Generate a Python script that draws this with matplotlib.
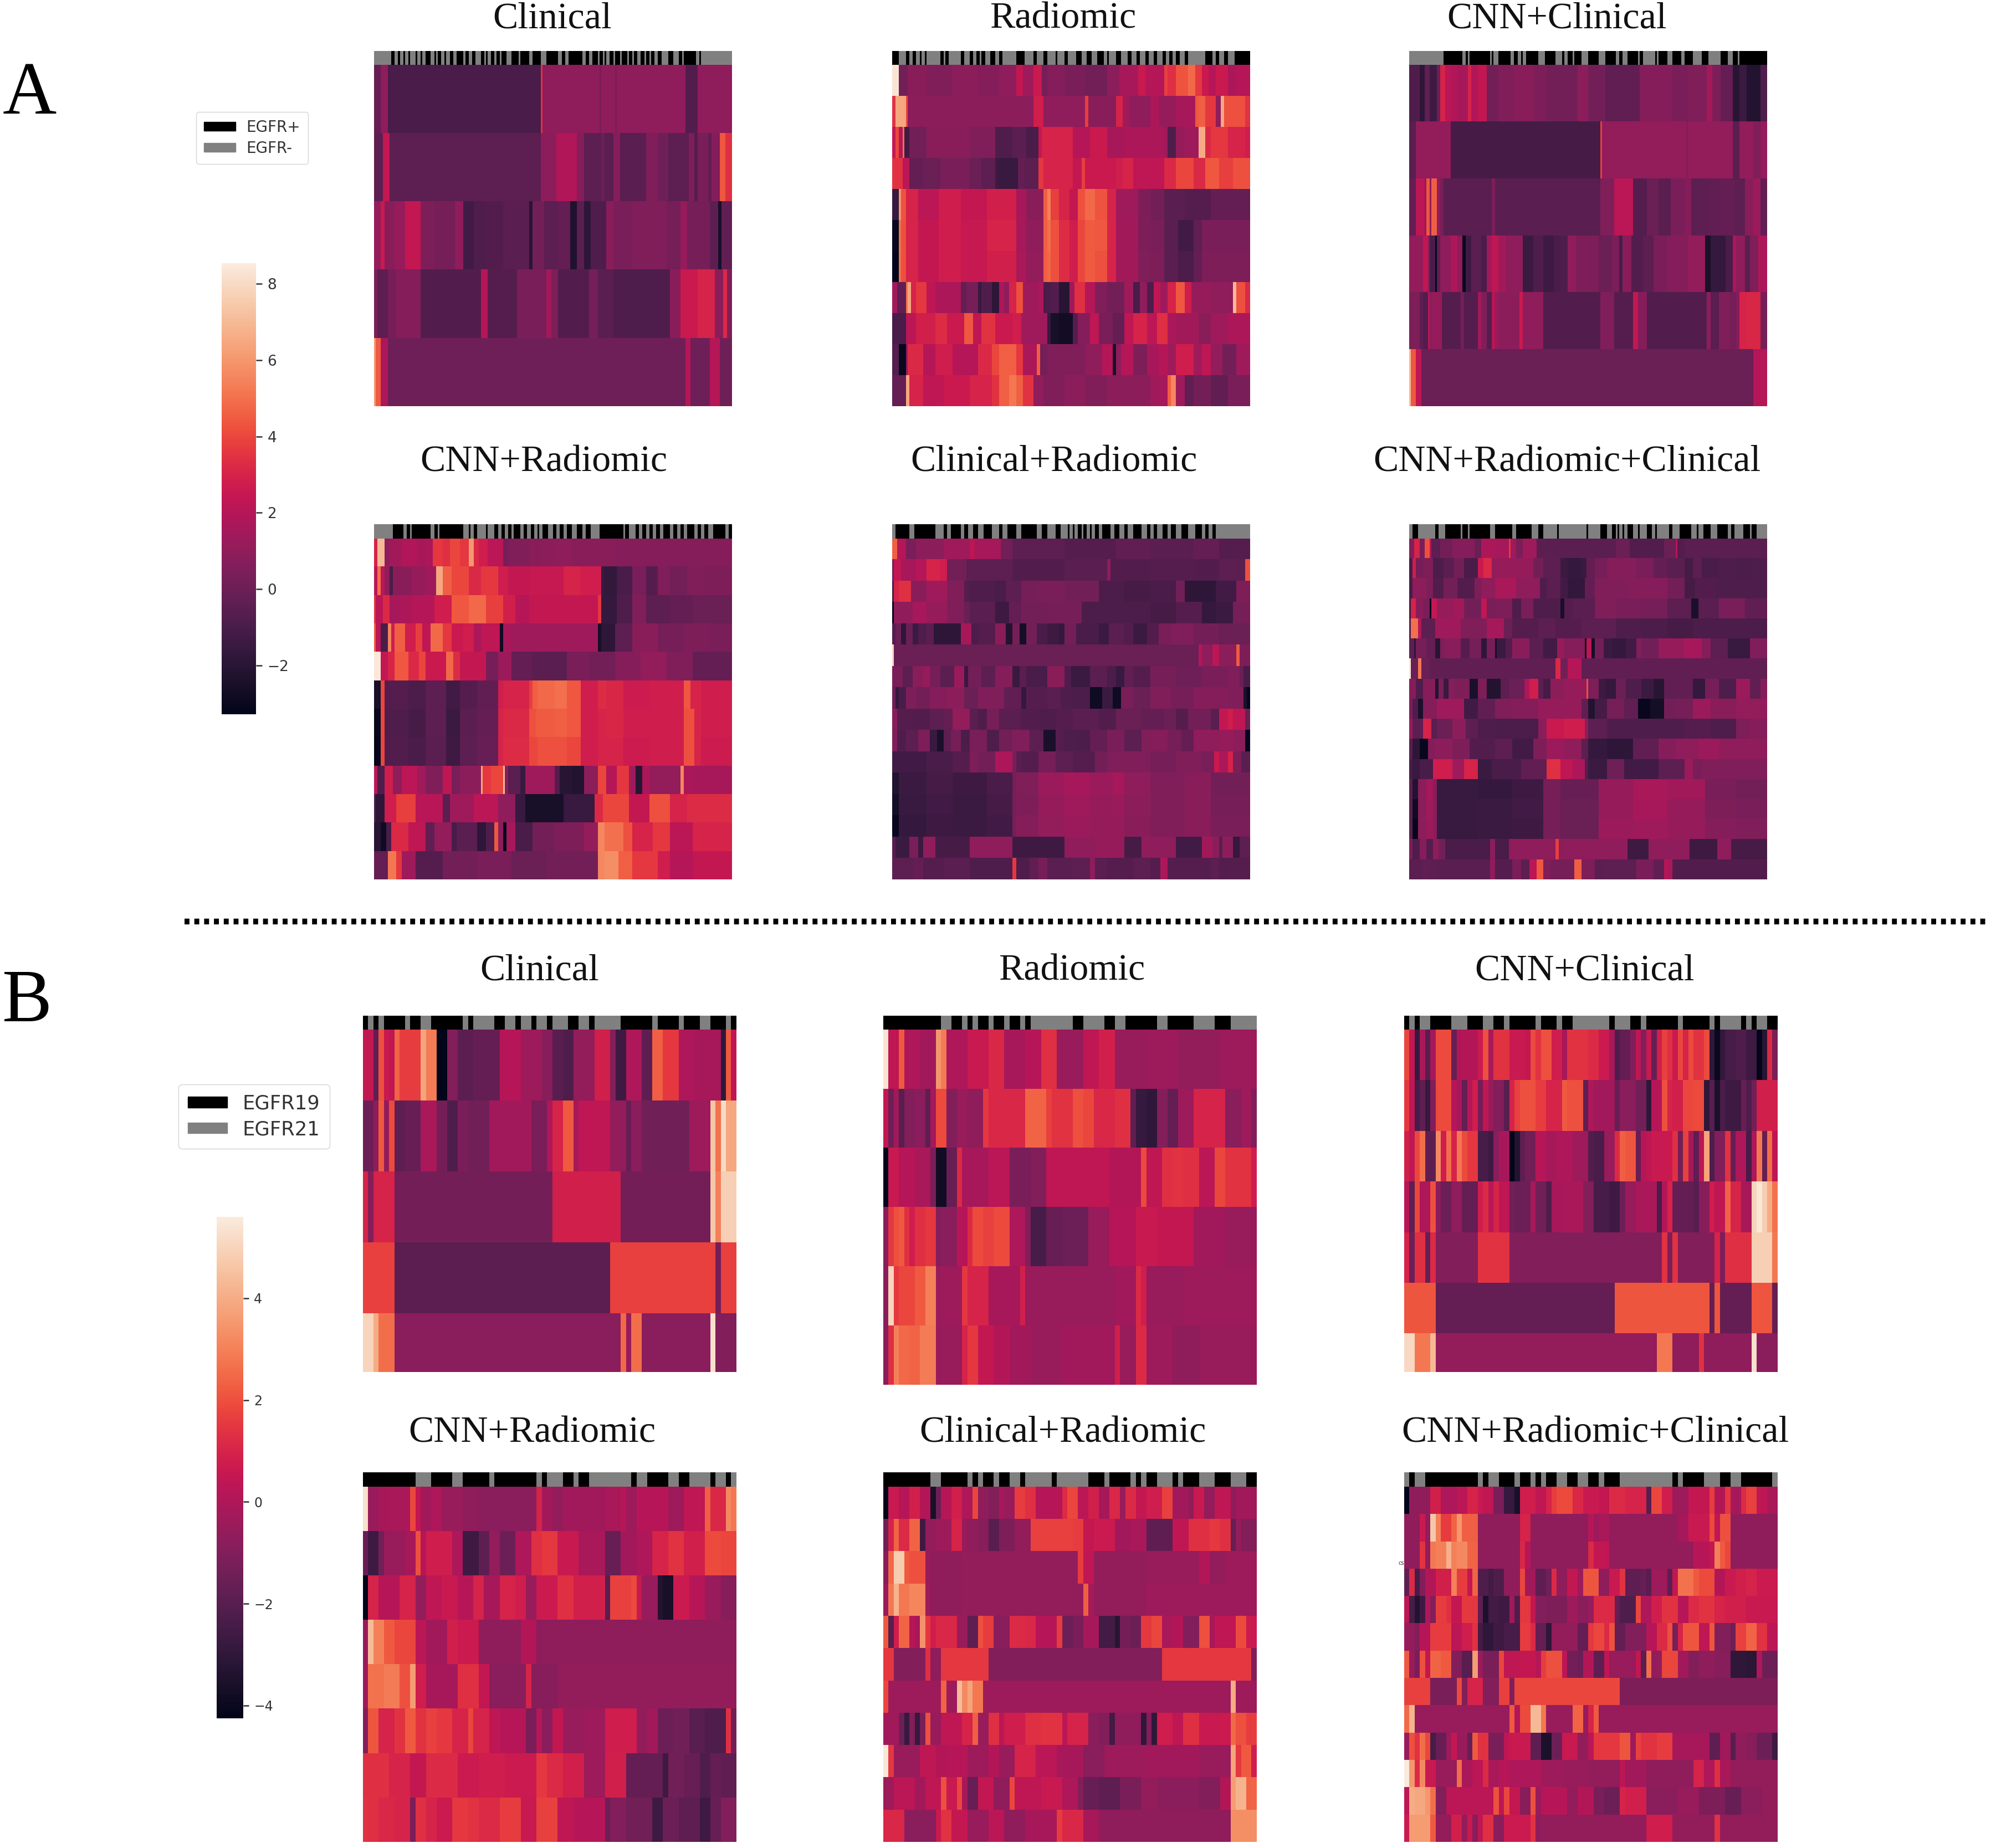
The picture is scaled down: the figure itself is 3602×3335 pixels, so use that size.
import numpy as np
import matplotlib
matplotlib.use("Agg")
import matplotlib.pyplot as plt
from matplotlib.colors import ListedColormap, Normalize
from matplotlib.cm import ScalarMappable
from matplotlib.patches import Patch
import seaborn as sns

# Every heat row: "end_column:value" runs.
A_COLS = 208
B_COLS = 71

A_CLINICAL = [
 "4:-0.2 8:1 97:-1 98:3.5 131:1 132:0.4 140:1 141:0.4 181:1 188:-0.7 208:1",
 "5:-0.4 9:2.4 97:-0.4 106:0.9 118:1.9 122:0.7 132:-0.4 134:0 139:-0.5 143:0.7 158:-0.5 165:0.6 171:0.1 172:-0.5 183:-0.4 186:0.5 188:-0.6 194:0.4 196:-0.3 201:0.7 204:4.4 208:3.4",
 "4:1.2 6:2.6 12:0.8 18:1.2 27:2.4 35:0.5 47:0.3 52:1 58:-1.2 65:-0.8 75:-0.7 90:-0.5 92:-2 99:0.2 107:-0.4 114:-0.2 118:-2.3 122:-0.5 126:-1.8 135:-0.8 139:0.8 150:0.4 170:0.6 178:0.3 182:1.2 195:0.3 200:-0.4 202:-2.5 208:-0.3",
 "2:0.4 8:-0.4 13:0.3 27:0.7 62:-0.7 66:2 83:-0.6 100:0.4 103:1.5 107:0.5 125:-0.7 130:0.3 139:-0.5 172:-0.8 178:0.8 188:2.6 198:3 203:0.8 205:3.2 208:0.5",
 "1:6 4:4.5 8:1.8 181:0.1 184:2 195:0.1 201:2 208:0.1",
]
A_RADIOMIC = [
 "4:8.3 9:0.2 20:0.8 35:0.6 50:0.9 62:0.7 72:1 76:2.4 82:1.4 87:2.6 90:0.3 100:0.7 112:0.4 125:0.2 132:0.9 143:1.6 147:2.6 158:2 160:3.8 165:3.4 172:4.3 176:4.8 180:3.6 184:2.6 188:2 195:2.6 200:1.8 208:2",
 "2:3.5 8:6.5 9:4 47:0.9 82:0.9 88:2.8 112:1 114:3.8 130:0.8 134:3 138:1.5 150:1 155:1.8 165:1.2 176:1.6 178:4.4 182:4.6 188:3.6 191:1 193:6.5 205:4.2 208:3.5",
 "2:2.5 4:4 6:2 7:5 10:-1.2 20:0.2 45:0.8 60:0.6 70:-0.8 78:-0.5 85:-1 87:2.4 105:3 115:2 125:2.6 135:1.6 158:1.8 160:1.4 165:-0.8 170:1.2 178:1.4 182:6.6 185:3.2 195:3.6 205:3 208:2.8",
 "6:3.5 10:2.2 18:-0.2 28:0 45:0.4 52:0 60:-0.4 62:-1.3 73:-1.5 77:-0.2 85:-0.4 88:3.6 105:3 110:2.4 112:3.8 130:2.6 134:2.8 140:3 158:2.3 165:3.2 175:4 182:3.2 190:4.4 198:3.8 208:4.2",
 "4:-1.5 5:6 8:4.3 15:3 27:2.2 40:2.8 55:2.4 72:2.9 78:1.6 88:0.8 90:4.6 92:5.4 97:3.8 103:3 108:2.4 112:4.2 118:4.8 125:4.3 130:3 143:1.4 150:0.5 158:0.2 170:-0.5 185:-0.6 208:-0.2",
 "4:-3 5:5 8:4.2 15:3 27:2.4 40:2.8 55:2.5 72:3 78:1.6 88:1 90:4.6 92:5 97:4.2 103:3.3 108:2.8 112:4 118:4.5 125:4.4 130:3 143:1.5 150:0.5 158:0.4 166:-0.5 175:-1.2 180:-0.3 208:0.4",
 "4:-3.2 5:5 8:4.2 15:3 27:2.4 40:2.8 55:2.5 72:2.9 78:1.7 88:1.1 90:4.6 92:4.8 97:4.2 103:3.3 108:2.8 112:4 118:4.5 125:4.2 130:3 143:1.5 150:0.6 158:0.5 166:-0.5 175:-0.9 180:-0.2 208:0.5",
 "3:1.5 8:-0.3 9:5 11:6.5 14:3 20:3.6 25:2.3 40:1.8 43:-0.2 50:0.3 52:-1.5 58:-0.8 62:-1.8 65:1.8 68:1 72:3 76:4.2 85:1.4 88:1.8 92:-1 97:-0.7 103:-2 106:1.4 112:3.4 118:2 125:0.6 135:0.2 140:1.4 144:-1 148:1 152:-0.8 156:2.3 160:1.4 165:3 170:4.4 174:2.8 185:1.2 198:1 200:7 205:4.2 208:3.2",
 "8:-1 14:2.2 25:2.9 32:3.3 42:2.6 47:4.4 52:2.3 60:3.5 70:2.6 75:2.8 90:1.4 92:-1.5 97:-2.5 105:-2.7 108:-0.6 115:0.7 120:2.3 128:0.4 135:-0.2 140:2.3 148:3 154:2.2 160:3.4 165:1.8 178:1.5 185:0.8 195:1.4 208:1.8",
 "4:-0.6 8:-3 9:1 18:3.2 25:2 35:2.8 50:2 58:3.2 62:4 72:4.6 76:3.6 84:1.8 86:4.6 90:0.3 112:0.6 122:1 128:2 130:-2.5 133:1 140:2 148:0.5 155:1.6 160:2 165:1.4 175:2.8 180:1.4 185:2.3 192:1.1 200:0.2 208:1.4",
 "8:-0.2 10:6.5 18:3 30:2.3 45:2.6 58:3 62:3.5 68:4.6 72:5.2 76:4.6 82:3.5 88:1 100:0.6 112:0.9 125:0.6 150:0.9 155:1.4 160:1.6 162:4.6 165:5.6 170:1.4 175:-0.3 185:0.2 195:-0.3 208:0.4",
]
A_CNN_CLIN = [
 "6:-0.8 9:-1.8 12:-0.3 16:-1.3 18:0 21:3 24:2.2 28:1.9 34:1.6 36:3 40:1.9 45:2.4 52:0.2 61:0.6 72:0.8 80:0.5 98:0.2 104:0.9 114:0.2 134:-0.3 153:0.7 162:0.4 173:0.6 176:1.5 181:0.5 188:-0.2 192:-2 196:-1.4 204:-2.2 208:-0.8",
 "4:-0.5 24:1.1 111:-1.1 112:3.8 161:1.1 162:0.6 181:1.1 188:1.1 192:-0.5 200:1.1 204:0.6 208:1.2",
 "4:-0.2 9:2.2 10:1 12:4.4 13:1 16:4.6 18:1 20:0.4 48:-0.5 50:0.5 51:-0.5 111:-0.5 119:0.6 130:2.2 138:-0.6 145:0 152:-0.5 160:0.4 164:0.7 173:-0.4 180:-0.3 189:-0.2 195:-0.4 200:0.8 204:1.3 208:-0.3",
 "8:1.1 11:2.3 12:0.8 15:-1 16:-3 18:-0.3 24:1 28:1.8 31:1 33:-3 36:-1.3 42:-0.5 45:-1 48:1.5 52:2.3 56:1.5 66:1 72:-1.4 78:-0.8 84:-1.3 88:-1 92:-0.8 97:1 110:0.5 118:0 122:0.4 124:-1 129:0.8 136:-0.7 142:-0.4 150:0.4 162:0.7 170:1.1 172:1.2 175:-2.4 184:-1.6 188:-1 190:1.8 195:1 198:-0.5 203:0.6 208:1.8",
 "6:0.5 8:-0.4 11:-0.7 12:2 14:1 19:1.2 30:-0.6 32:0.3 40:-0.6 42:1.5 45:0.6 48:-0.6 50:2 52:1.2 64:0.9 66:2.6 68:0.9 78:1 111:-0.7 119:0.6 130:-0.6 133:2.4 138:0.7 173:-0.7 175:1 180:-0.5 186:0.6 190:0.3 192:0.7 196:3 204:3.1 208:0.3",
 "1:7 4:4.4 7:2.3 200:0 208:2",
]
A_CNN_RAD = [
 "2:3 6:7 9:1 16:1.5 25:1.9 30:1.6 34:1.8 40:3.6 44:3.4 50:4 55:3.6 58:6 61:3.2 66:2.8 75:2.2 78:0.3 90:0.6 98:0.8 105:0.9 115:1 130:0.8 140:0.8 165:0.7 208:0.7",
 "2:2.2 4:5 6:2.2 9:1 11:-1 22:0.8 30:1.2 36:1.4 40:6.5 45:4.6 55:4 62:3.2 72:3.6 78:2.8 90:2.4 110:2.5 120:3 132:2.8 134:-1.5 141:-1.7 150:-1 158:0.4 165:-0.6 172:0.6 182:0.2 192:0.6 208:0.5",
 "1:3.5 5:2.2 9:3.2 15:1.6 22:1.8 35:2 45:2.8 55:4.4 65:4.8 75:3.8 82:2.9 90:2 105:2.4 130:2.4 132:3.6 134:-1.6 141:-1.6 150:-0.8 158:0.6 172:-0.4 185:-0.2 208:0",
 "1:4.5 4:2.2 8:-1 10:5.5 12:2.8 18:4.6 24:2.8 28:3.8 33:2.3 40:4.8 45:3.6 52:2.6 58:2.8 62:1.8 73:2.3 75:-2.8 80:1.6 100:1.4 130:1.4 132:-2.5 140:-1.8 150:-0.4 165:0.8 180:0.3 195:0.5 208:0.4",
 "4:8.4 8:2.4 12:3 20:4.4 26:3.2 30:4 42:2.6 46:4.8 50:3.3 65:2.4 72:0.3 80:1.3 92:-0.2 112:-0.5 125:0.4 140:0.2 155:0.7 170:1.1 185:0.6 208:-0.2",
 "4:-2.5 6:4 20:-0.6 30:-0.9 42:-0.4 50:-1.2 60:-0.6 72:-0.3 75:2.8 90:3 92:3.8 95:4.6 105:4.8 112:5 120:4.4 130:2.8 135:3.3 145:3.1 160:2.7 180:2.8 184:4.4 190:3 208:2.8",
 "4:-3 6:4 20:-0.8 30:-1.1 42:-0.4 50:-1.4 60:-0.5 72:-0.2 75:3 90:3.2 94:4.2 105:4.5 112:4.6 120:4.4 130:2.8 135:3 145:3.1 160:2.8 180:2.8 186:4.2 190:3 208:2.8",
 "4:-3.1 6:4 20:-0.7 30:-1 42:-0.5 50:-1.3 60:-0.4 72:-0.1 75:3 90:3.3 95:4 105:4.2 112:4.2 120:4 130:2.8 135:3 145:3 160:2.7 180:2.8 186:4.2 190:3 208:2.7",
 "2:2.2 6:-0.8 11:2.8 16:1 25:2.2 30:1.4 40:0.6 45:2.3 50:0.4 62:0.9 63:6.5 68:3.6 75:4 76:7 78:0.8 85:-0.5 88:-1.5 105:1.4 108:-0.6 115:-2 122:-2.2 130:0.9 135:4 141:2 148:3.6 152:1.4 156:-2 160:1.8 178:1.1 180:5.6 185:1.8 208:1.6",
 "1:-1 6:-1.8 13:2.8 24:3.8 40:2.1 44:-0.5 58:1.4 72:2.2 82:1 88:-1.5 110:-2.5 128:-1.5 133:3.2 148:4 160:2.4 172:4.2 182:3 195:3.3 208:3.3",
 "4:-2 7:-2.8 10:-1 20:3.2 30:2.3 35:-0.3 45:1.1 48:-1 60:-0.5 65:-1.8 70:-0.8 72:4.4 75:0.9 77:-3 82:1.6 92:-1 105:0.2 122:0.5 130:1.1 134:5.6 145:5 150:4.2 162:3 172:3.6 185:2.2 208:3",
 "8:-0.2 13:5.2 16:3.6 24:1.4 40:-0.6 60:0.2 80:0.4 100:0 130:0.2 134:5.6 142:5.8 150:4.6 165:3.6 172:2.8 185:2 208:2.4",
]
A_CLIN_RAD = [
 "3:4.6 8:2 14:0.4 30:0.9 45:1.4 48:2.2 63:1.6 70:0.2 100:-0.4 130:-0.6 150:-0.3 175:-0.5 190:-0.2 208:-0.6",
 "1:0.2 5:2.4 14:1.6 20:2 28:3 32:2.8 43:0.2 70:-0.4 100:-0.7 125:-0.5 127:1 150:-0.7 175:-0.6 190:-0.7 200:-0.4 205:-0.5 208:4.2",
 "1:-1 4:3 11:3.4 20:0.8 32:1.4 42:0.6 45:-0.6 60:-0.8 66:-1 75:-0.4 85:0.3 100:0.4 120:0.2 135:-0.9 150:-1.1 165:-1 170:0.2 188:-1.8 200:-1.2 208:0.5",
 "1:-3 12:1 20:1.6 32:1.2 42:0.6 45:0 60:-0.5 68:-1.3 75:-0.2 90:0.2 110:0.3 135:-0.9 150:-0.9 165:-1.1 180:-0.6 188:-1.6 198:-1.4 208:0.3",
 "2:-0.6 5:0 8:-1.8 12:0 15:-1.4 20:-0.8 24:-0.5 40:-1.8 46:1.6 50:-0.9 60:-0.6 66:0.8 70:-2.2 74:0.3 78:-2.6 84:0.2 90:-1 97:-1.3 100:-1.6 107:0.2 120:-1 126:-1.4 135:-0.5 140:-0.7 148:-1.4 155:-0.7 162:0.4 175:0.6 190:0.2 208:0",
 "1:8 3:0 178:0 180:2 186:1 190:2.2 200:0.9 202:4.5 208:0.5",
 "6:0.4 12:-0.4 18:0.8 22:1.2 28:0.3 36:-0.5 42:1.3 44:-1.5 52:0.2 60:-0.4 70:0.7 74:-1.5 78:-0.5 90:-1 100:0.8 104:-0.8 115:-1.4 125:-0.5 130:-0.9 135:-1.5 140:-0.3 150:-0.6 165:0.3 180:0.1 195:0.4 202:0.6 204:0 208:-1",
 "2:0.1 4:-1.6 8:-1 14:0.5 22:0.2 32:0.7 42:0.9 50:0 65:0.6 75:-0.3 78:-1.6 90:-0.6 98:-0.5 105:-0.8 115:-0.9 122:-2.8 128:-1.4 133:-2.8 140:0.4 150:0 162:0.6 175:0.3 195:0.7 204:0.6 206:-2.4 208:-3",
 "3:0.8 12:-0.6 22:-0.7 30:-0.4 35:-0.2 45:1.1 50:-0.5 55:-0.8 62:0.3 75:-0.5 85:-0.7 95:-0.8 105:-0.6 120:-0.5 130:-0.7 145:0 158:-0.2 165:0 172:-0.6 185:0.2 190:-0.5 195:2.4 198:2.8 205:2.3 208:0",
 "3:0.6 8:-0.8 15:-0.4 22:0.5 26:-1.5 30:-2.4 34:-0.4 40:0.3 45:-0.9 55:0.4 62:-0.8 70:0.2 80:0.6 88:-0.4 95:-2.4 100:-0.6 108:-0.8 115:-0.9 125:-0.2 135:0.4 145:-0.4 150:0.6 160:0.7 168:0.3 175:-0.2 190:1 198:1.2 205:0.9 207:-3.1 208:-3",
 "8:-1.2 20:-1.2 35:-1 45:-0.6 50:0.5 60:0.2 70:1.8 72:0.4 75:-0.5 85:-0.6 95:0.3 105:-0.4 118:-0.6 125:0.2 135:0.6 150:0.6 165:0.3 180:0.6 187:0.4 190:2.6 195:1.8 198:3 203:0.5 208:-0.5",
 "4:-2.2 20:-1.4 35:-1.1 55:-1.3 70:-1 72:0.3 85:0.6 100:1.3 115:1.6 128:1.3 135:1.6 150:1 170:0.6 185:0.8 208:0.2",
 "4:-2.6 20:-1.5 35:-1.2 55:-1.4 70:-1.1 72:0.3 85:0.5 100:1.2 115:1.4 128:1.2 135:1.3 150:0.9 170:0.6 185:0.8 208:0.3",
 "4:-3 20:-1.6 35:-1.3 55:-1.4 70:-1.2 72:0.3 85:0.7 100:1.1 115:1.3 128:1.2 135:1.2 150:0.8 170:0.6 185:0.8 208:0.4",
 "2:-0.6 10:-1.4 15:0.4 18:-1.4 25:1 45:-1.1 70:1 100:-1.3 118:1 135:1.2 145:-1.1 165:1 180:-1.2 186:1.5 190:0.9 192:-0.5 198:0.9 202:-1.6 208:-0.4",
 "12:-0.4 18:-0.2 30:-0.6 45:-0.5 70:-0.8 72:3.6 80:-0.8 85:-0.3 90:0.3 105:-0.5 115:-0.4 118:1 125:-0.5 140:-0.6 150:-0.4 156:-0.6 160:1.8 170:-0.6 185:-0.6 190:-0.4 200:-0.6 208:-0.6",
]
A_ALL = [
 "3:0.7 6:3 9:0.4 12:4.2 13:2 18:-0.4 25:0.2 38:0.7 42:0 50:1.8 58:1.6 59:3.6 62:1.4 66:0.4 74:1.4 77:-0.5 120:-0.5 128:0 148:-0.7 155:0 156:2 160:-0.6 208:-0.5",
 "2:-1 4:2.8 8:0.3 14:0.5 20:-0.9 26:-0.5 32:0.2 40:-1 43:2.6 48:3.2 50:1 60:1.2 72:1.2 78:0.2 88:-0.4 92:-1.4 100:-1.6 103:-1.4 108:-0.2 115:0.3 132:0.7 142:0.4 150:-0.2 160:-0.5 165:-1.1 170:-0.4 180:-1 190:-0.8 200:-0.9 208:-0.8",
 "2:-1 5:1 10:0.9 14:0.5 20:-0.7 28:0.2 38:-0.7 42:0.5 50:1 62:1.7 76:1 80:-0.8 88:-0.5 92:-1.2 102:-1.7 108:-0.2 128:0.6 150:0.7 160:0.2 166:-1.1 178:-0.7 190:-0.8 208:-0.8",
 "1:-1 4:3 8:0.8 12:0.4 13:-3.2 16:2.4 26:1.2 32:1.5 42:0.2 45:2.3 50:0.4 60:0.5 65:-0.8 72:0.4 88:-0.8 90:-2.5 95:-0.6 108:-0.5 120:0.6 135:0.4 150:0.3 164:-0.4 168:-2.4 180:-0.5 195:0.4 208:-0.3",
 "1:-0.4 5:5 7:2 15:-0.4 30:1.4 45:0.6 55:1.6 60:0 75:-0.6 85:-0.4 100:-0.6 120:-0.4 135:-0.8 150:-0.9 165:-1.1 180:-0.9 208:-0.9",
 "3:-0.4 4:-1.8 10:0.3 15:-0.2 18:-2 21:0.6 30:0.8 35:-0.6 42:0.3 45:-1.8 50:0.3 51:-2.6 56:-1.4 60:-0.6 70:0.8 78:-0.5 86:-1.2 90:1.2 102:0.7 103:-2.8 106:2.2 108:-2.6 113:0.2 118:-1.4 126:-1.6 132:-1.2 135:0.6 145:0.2 160:1.2 170:1.6 175:0.7 185:-0.4 193:-1.5 198:-1.5 208:0.6",
 "1:8.4 5:0 7:5.2 12:0 85:-0.3 88:3.2 92:0.2 96:2 100:2 208:-0.3",
 "4:0.7 8:-0.8 15:0.7 17:-2.2 20:0.4 23:-1.5 26:0.7 35:0.5 40:-2.4 45:0.5 53:-2.2 58:-0.4 67:0 70:1.8 75:2.8 78:-0.4 82:-1.1 90:0.9 103:1.2 104:4.2 110:0.5 114:-1.3 120:-1.6 126:0 135:-0.8 142:-1.4 148:-2 155:-0.3 165:-0.3 172:-1.6 180:0.3 190:-0.8 198:1.3 204:-0.3 208:0.7",
 "2:0.5 5:-0.8 8:-2.4 16:0.7 32:1.4 40:-1.2 50:-0.3 60:0.6 75:0.7 100:1.2 104:-0.3 108:-2.2 115:-1.1 125:0.3 133:-0.3 140:-3 148:-2.6 155:0.2 165:0.3 175:1.3 190:0.8 208:1.1",
 "2:1.2 6:-0.4 8:-0.3 13:3 16:-0.5 25:0 33:0.9 40:-0.4 50:-0.8 75:-0.9 80:0.9 90:2.6 102:2.8 104:0.9 115:-0.4 160:-0.8 175:-0.6 190:-0.8 198:0.5 208:0.7",
 "2:-0.5 6:-1.8 11:-3 15:0.7 25:0.9 35:0.5 50:-0.7 60:-0.4 72:-1.2 80:0.5 90:1.3 100:1 104:-0.4 115:-1.6 130:-1.8 145:-0.3 155:0.7 168:1 180:1.3 208:1",
 "2:-1 6:-1.5 14:-1 25:2.8 32:1.4 40:3 48:-1.4 65:-1 80:-0.3 88:3.4 95:2.3 102:1.8 104:-0.6 115:-1.4 125:0.1 145:-1.2 160:-0.4 165:1.3 170:0.4 208:0.6",
 "2:-0.5 5:-2.2 10:0.9 14:1.6 16:0.7 40:-1.5 60:-1.6 78:-1.3 88:0.3 110:-0.1 130:1.2 150:1.7 172:1.5 190:0.4 208:0.2",
 "2:-0.5 5:-2.8 10:0.9 14:1.4 16:0.8 40:-1.5 60:-1.4 78:-1.2 88:0.3 110:0 130:1.2 150:1.6 172:1.2 190:0.5 208:0.4",
 "2:-0.5 5:-3.1 10:0.9 14:1.3 16:0.8 40:-1.5 60:-1.4 78:-1.3 88:0.3 110:0 130:1.3 150:1.4 172:1.2 190:0.7 208:0.6",
 "2:0.5 6:-0.8 10:0.7 14:-0.6 17:0.9 21:0.2 47:-1 50:0.9 58:-1 75:1 85:1 87:3.8 90:0.9 127:1 139:-1.3 163:1 179:-1.3 187:1 208:-1.1",
 "8:-0.5 12:-0.3 16:-0.4 47:-0.5 50:1 60:-0.6 65:0.4 70:-0.4 74:2.2 78:4.4 82:0.6 96:0.3 100:4.6 108:0.5 112:-0.5 132:-0.4 142:0.4 148:-0.3 150:2 153:1.7 155:-0.6 208:-0.7",
]
BAR_A_CLINICAL = [10,12,14,15,17,18,20,21,24,25,27,28,30,33,35,36,37,39,41,42,44,46,48,52,53,55,57,59,62,64,65,66,68,70,71,73,74,77,80,84,85,90,92,97,100,107,109,111,113,121,123,125,127,130,131,133,134,135,137,139,140,143,144,147,148,150,151,153,155,157,158,160,161,163,165,167,171,174,177,179,180,187,189,190,208]
BAR_A_RADIOMIC = [0,4,8,10,12,14,16,17,19,20,28,30,31,33,40,42,45,47,49,51,52,54,57,60,62,64,72,77,82,84,88,90,95,96,100,102,107,110,113,116,119,123,125,126,130,133,137,139,142,144,147,149,152,154,157,159,161,163,165,167,170,172,182,186,188,190,193,195,199,208]
BAR_A_CNN_CLIN = [20,31,33,34,35,47,48,49,52,59,61,63,65,66,68,75,79,85,89,90,92,95,96,100,104,110,114,120,122,124,127,133,134,136,143,144,145,150,153,158,160,165,170,174,181,185,188,191,192,208]
BAR_A_CNN_RAD = [11,17,19,21,22,33,35,37,38,52,55,56,58,60,65,66,70,72,74,76,78,80,81,85,87,89,91,93,95,96,98,101,104,106,108,110,112,115,118,121,123,126,131,145,146,148,152,154,156,158,160,162,164,166,168,172,174,176,178,180,182,186,188,190,192,194,197,204,206,208]
BAR_A_CLIN_RAD = [2,10,13,25,30,32,34,40,42,44,47,50,53,58,62,64,67,72,75,84,87,90,95,98,102,103,105,106,108,110,111,113,115,116,118,120,122,127,129,132,135,137,140,145,148,150,152,154,157,160,162,165,168,172,176,180,182,184,186,188,208]
BAR_A_ALL = [2,5,15,17,21,30,31,34,35,47,50,60,62,71,75,78,86,87,103,104,111,115,118,120,121,122,124,125,127,130,133,134,138,141,143,144,151,153,157,164,167,168,171,175,179,185,187,189,194,198,199,202,208]

B_CLINICAL = [
 "2:0.5 3:-1.8 4:2 5:0.6 6:0.4 7:2.4 11:1.6 12:3.8 14:2.9 16:-4.2 18:-1 21:-1.9 26:-1.7 30:0.2 34:-0.4 36:-0.9 38:-2 40:-2.2 44:-0.6 47:0.9 48:-1 50:-2.6 53:0 55:-1.8 57:2.3 60:1.5 63:0 68:-0.2 69:-3 70:2.2 71:0.4",
 "2:-1.5 3:-0.7 4:2.2 5:-0.6 6:1.9 8:-1.8 11:-1.6 14:-0.1 16:-1.3 18:-2.2 20:-1.2 24:-1.4 32:-0.3 35:-1.2 36:0 38:1 40:2.2 41:-0.2 47:0.4 50:-0.6 51:-1.6 53:-0.8 55:-1.4 62:-1.4 66:-0.4 67:4.6 68:2.7 69:5.2 71:3.9",
 "1:1 2:-1 6:1 36:-1.3 49:0.9 66:-1.3 67:4.7 68:3 71:4.9",
 "6:1.7 47:-1.9 67:1.7 68:-1.3 71:1.7",
 "2:5 3:4 6:2.6 49:-0.8 50:2.5 51:-0.5 53:2.6 66:-0.8 67:5.3 71:-1",
]
B_RADIOMIC = [
 "1:5.4 3:0.4 4:2.2 7:0 10:-0.3 11:3.5 12:2.9 16:0 20:0.6 23:1.1 27:-0.2 30:0.2 33:1.3 38:-0.5 41:0.4 44:0.9 50:-0.5 56:-0.4 64:-0.6 71:-0.4",
 "1:0.5 2:-1.5 3:-0.4 4:-2 6:-1 8:-0.8 9:-1.8 10:-0.2 12:1.9 14:-1 16:-0.5 19:-0.7 20:1.5 27:1.1 31:2.4 32:1.7 36:1.4 38:2 40:1.8 44:1.1 47:1.3 48:-1.8 50:-2.8 52:-3 54:-1 56:-1.7 59:-0.4 65:1 68:-0.8 70:-0.4 71:-1",
 "1:-4.2 3:0.6 6:0.2 9:-0.1 10:-1.2 12:-3.8 14:-1.6 15:1.2 20:-0.2 24:0.3 28:-1.2 31:-1 34:0.4 43:0.4 49:0.1 50:1.9 53:0.4 55:1.3 57:1.4 60:1.3 63:0.3 65:1.8 70:1.4 71:0.8",
 "1:-0.8 2:1.5 3:2 4:2.2 5:1.3 6:0.8 8:1.3 10:1.5 11:-1 14:-0.8 16:0.2 17:1.2 19:1.9 21:1.7 24:1.9 27:0 28:-1 31:-2.4 34:-1.6 39:-1.5 43:-0.5 48:0.2 52:0.6 59:0.5 65:-0.3 71:-0.5",
 "1:-0.8 2:5 3:1.5 6:1.8 8:2.2 10:3 11:-0.5 15:-0.4 16:1.5 20:1 23:-0.2 26:-0.2 27:0.9 44:-0.5 48:-0.3 49:1.2 50:0.8 57:-0.5 71:-0.4",
 "1:-0.8 2:1.3 3:3 5:2.5 7:2.4 10:2.9 15:-0.5 16:1 18:1.5 21:0.5 24:0.1 28:-0.3 34:-0.5 44:-0.3 45:0.9 48:-0.5 50:1.2 52:-0.4 55:-0.4 60:-0.7 71:-0.5",
]
B_CNN_CLIN = [
 "1:1.8 2:0.5 3:-2.8 4:-0.1 5:-2 6:-0.2 9:1.9 10:-1.6 14:0.1 15:0.7 16:2 17:-0.1 20:1.4 23:0.6 24:0.5 25:1.9 26:1.4 28:2 30:0.8 31:-0.2 35:1.4 37:1.2 39:0.7 40:-0.2 41:-2.2 43:-1.7 44:-1 45:0.4 46:-1 47:0.6 48:-1.6 49:0.9 50:1.7 51:1.3 52:0.6 53:1.8 54:1 55:1.9 57:1.4 58:1.9 59:-3 60:-4 61:-2.9 63:-2.4 65:-2.2 67:-2.6 68:-4.2 69:-3.2 70:1.2 71:-1.2",
 "1:1.5 2:0.4 3:-2.4 4:-1.8 5:-2.8 6:-1 7:1.9 9:1.9 10:0.2 11:-0.2 12:-1.7 13:0.2 14:0.8 15:-1.3 16:0.4 17:-0.5 19:-1 20:-2 21:1 22:1.7 25:2 27:1.6 30:1 31:2.2 34:2 35:-1.8 36:0 40:-0.3 41:-1.6 44:-0.8 46:-1.4 47:-3 49:0.2 50:2 51:1 53:0.9 55:1.8 57:1.9 58:-3 59:-2 60:-3.5 61:-2.3 64:-2.6 65:-1.6 66:-2.2 67:-1.4 71:0.9",
 "1:0.9 2:0.4 3:1.8 4:2.6 6:-1.8 7:3.2 8:0.8 9:2.6 10:1 11:2.8 12:1.9 14:1.5 16:-2.4 17:-2.6 18:-0.8 20:-0.2 21:-4.2 22:-3.3 23:-1.8 25:-1.4 27:0.2 29:-0.2 32:0 35:-0.4 36:-2.1 38:-2.3 40:-0.5 41:1.2 42:2.3 44:2.1 45:-1.6 46:0.2 47:0.4 51:0.6 52:1.3 53:-1.4 54:1.7 55:-0.3 56:-1.8 57:0.3 58:3.8 59:-2.2 61:-1 62:1.4 63:-1.7 65:0 66:-2.4 67:0 68:2.8 69:-1.7 70:2.6 71:0.4",
 "1:0.2 2:-1.8 3:1.8 5:0 6:2 7:-0.8 9:-1.5 11:-0.7 14:-1.7 15:0.8 16:1.2 17:0.3 18:1 20:0.4 21:-1.4 24:-1.5 25:-0.1 27:-1.4 28:-2.2 30:-0.2 34:-0.1 36:-1 39:-2.4 41:-2.6 42:-1.5 44:-0.5 48:-0.1 49:-2.3 50:0.1 51:1 52:-1.6 55:-1.7 56:-2 58:-0.9 59:0.8 61:0.4 62:2.4 64:1 66:-0.2 67:5 68:5.5 69:4.8 70:4 71:2.7",
 "1:1 2:-1.5 4:1.3 5:-1.6 6:1.2 14:-1 20:1.4 49:-1 50:1.4 51:-1.1 52:1.4 59:-1 60:1 61:-1.1 66:1.3 70:4.9 71:2.8",
 "6:2.1 40:-1.7 58:2.1 59:-1.7 60:2.1 66:-1.7 70:2.1 71:-1.7",
 "2:5.1 5:2.8 6:4.3 48:-0.6 51:2.8 56:-0.7 57:1.4 66:-0.7 67:5.3 71:-0.8",
]
B_CNN_RAD = [
 "1:5.3 3:-0.5 5:-0.2 9:-0.1 10:1.8 11:0.5 13:-0.3 15:0 19:-0.5 22:-0.7 33:-0.8 34:1 36:-0.3 38:-0.6 46:-0.3 49:-0.1 50:0.2 52:-0.4 58:0.2 61:-0.4 65:0.4 66:2.3 69:1.1 70:3.2 71:2.8",
 "1:-1.6 3:-2.6 4:-1.4 8:-0.5 10:-0.2 11:2 12:0.2 17:0.8 19:0 22:-2.6 24:-1.8 26:-0.6 29:-1.5 32:0 34:1.3 37:1.5 41:0.6 46:-0.1 49:-1.6 52:-0.3 55:0 58:1 61:1.4 65:0.9 68:1.9 71:1.8",
 "1:-4.3 3:1 7:0.2 10:1 12:-0.6 15:0.4 18:0.6 21:0.2 23:1 26:-0.2 29:1 31:0.8 33:-0.5 37:0.7 40:1.3 46:0.9 47:-2 51:1.7 52:1.9 53:0.6 56:-0.5 57:-3.3 59:-3.6 62:0.7 65:0.2 68:-0.5 71:-0.9",
 "1:-0.5 2:4.4 4:3 6:2.2 10:1.8 12:0.3 16:-0.3 18:0.9 22:0.7 30:-0.7 33:0.1 34:-0.8 71:-0.7",
 "1:-0.4 4:2.7 7:2.9 9:2 10:3.6 12:0.8 18:-0.2 22:1.3 24:0.5 31:-0.8 32:1 37:-0.9 71:-0.6",
 "1:-0.9 3:2.1 6:1 8:1.4 10:2.2 12:1.4 14:1.7 17:1.5 20:1 21:1.8 24:1 26:0.4 31:0.2 33:-1.2 34:0.2 36:-0.8 38:0.5 42:-0.5 46:-0.4 52:0.8 54:-0.6 56:-0.3 59:-1.5 62:-1.4 65:-2 69:-2.2 70:1.3 71:-1.3",
 "5:1.3 9:1 12:0.5 18:1.2 22:0.7 27:0.8 33:0.7 35:1.5 38:1.2 42:0.9 46:-0.4 50:0.9 57:-1.7 58:-2.6 61:-1.4 64:-1.6 66:-2.2 68:-1.7 71:-1.8",
 "1:1.4 3:1.3 6:1.1 9:1 10:-1.2 12:1.3 14:1 17:0.7 20:1.5 22:1.4 26:1.2 30:1.6 33:0.6 37:1.7 40:0.4 46:0.2 47:-1.5 50:-1 55:-1.4 57:-2.6 60:-1.5 64:-1.8 66:-2.6 68:-1.6 71:-1",
]
B_CLIN_RAD = [
 "1:-4.3 3:0.6 5:0.2 7:0.9 9:0.1 10:-3.6 11:-1.5 13:0.2 15:0.9 17:0 18:1.8 20:-0.7 22:-1 23:-0.2 25:-0.5 27:1.6 29:1.3 31:0.2 34:0.2 35:1.2 37:1.8 39:0.3 41:0.9 43:-0.2 45:1.1 46:-0.5 48:1.2 50:0.5 53:0.8 55:1.7 58:-0.3 59:-0.7 61:0.6 63:-0.6 66:0.4 67:-0.7 71:-0.3",
 "1:-1.4 2:1 3:2.4 5:1.2 7:2.4 8:-2.6 10:-0.6 13:-0.4 15:1 16:-0.5 18:-0.7 20:-0.9 22:-2 25:-1.1 28:-0.6 36:1.7 38:1.6 40:0.5 44:0.7 47:-0.3 50:-0.1 55:-1.8 58:0.4 62:1.3 64:1.5 66:1.3 67:-1.6 68:-0.6 71:-1",
 "1:-0.9 2:2.5 4:4.8 5:2.2 8:2 9:-0.5 15:-0.7 37:-0.6 38:1.6 40:0.4 50:-0.6 60:-0.5 62:0.1 65:-0.6 71:-0.4",
 "1:-0.5 2:2.8 3:4.2 5:2.8 8:3.1 9:-0.4 15:-0.7 38:-0.6 39:2.3 40:-0.2 50:-0.6 60:-0.4 71:-0.4",
 "1:2.2 2:-2 3:0.8 5:2.4 6:0.2 7:-0.2 8:3.4 9:1.5 10:0.8 14:1.1 16:-0.5 18:-1.8 19:2 21:1.6 24:-0.8 27:1.2 29:1.1 33:0.2 34:1.6 36:-1.5 38:-1.2 41:-0.2 44:-2.5 45:-3.2 47:-1.3 49:-1.5 51:1.5 53:1.8 55:-0.1 57:0.1 60:-1 62:2 63:-0.2 67:0.4 69:1.9 71:0.7",
 "2:1.5 8:-1 9:1.3 11:-0.7 20:1.5 53:-1 70:1.5 71:-1",
 "1:1.8 11:-0.4 12:2.4 14:-0.4 15:4.4 16:3.2 17:3.8 19:2.8 66:-0.4 67:4 71:-0.4",
 "3:-0.3 4:-1.5 5:-2.8 6:-1 7:-2.8 8:-1.2 9:2 11:-0.5 15:0.4 17:1 18:2.3 20:-0.5 22:1.3 23:0.3 27:0.8 30:1.3 34:1.4 35:0.3 39:1 41:-0.8 43:-1 44:-2.5 49:-0.7 50:-3 51:-1 52:-3 55:0.8 57:0.4 60:1.3 64:0.6 66:0.7 67:2.5 69:2 71:1.6",
 "1:5.5 2:1.5 7:-0.5 10:0.4 12:0.1 16:0.2 20:-0.4 22:0.1 25:-0.5 29:1 33:0.3 38:-0.2 42:-0.8 50:-0.4 60:-0.3 66:-0.5 67:3.8 68:1.5 70:2.2 71:0.8",
 "2:-0.4 6:0.3 8:-0.3 11:0.4 12:2 14:0.6 15:1.8 16:-0.2 18:-1.6 21:0.5 24:-0.7 25:1.8 30:0.4 34:0.6 37:0 38:-1 41:-1.6 45:-1.8 49:-1.2 52:-0.6 60:-0.8 64:-1 66:0.1 67:3.6 69:4.2 71:2.4",
 "4:1.1 10:-0.8 11:0.6 13:1.4 16:0.5 20:-0.5 23:0.3 27:-0.7 33:-0.2 34:1.6 38:1.1 41:-0.2 66:-0.7 71:3.3",
]
B_ALL = [
 "1:-4.3 5:-0.7 7:0.9 10:0 12:0.3 14:1 15:0.6 17:0.4 19:-1.2 21:-2.8 22:-3.6 25:0.8 27:0.4 28:1 29:1.6 32:1.9 34:1.1 35:0.6 37:0.6 39:0.5 42:1.2 46:1 47:-2 49:1.8 51:0.8 54:-0.4 58:0.5 59:1.6 61:0.1 62:1.5 64:-0.2 65:1.2 67:1.7 69:0.4 71:-0.1",
 "3:-0.7 4:0.6 5:-0.6 6:4.7 7:3 9:1.6 10:2.4 11:3.5 14:2.3 22:-0.7 24:1 35:-0.7 36:0.2 37:-0.4 39:-0.1 52:-0.6 54:-0.2 58:0.6 59:1.9 60:0.4 62:2 71:-0.7",
 "3:-0.7 4:1.4 5:-0.6 6:2.8 8:3 9:4.1 10:3 12:3.2 14:2.4 22:-0.7 23:1.1 24:0.2 35:-0.7 36:1.2 38:0.5 39:0.4 55:-0.6 58:0.2 59:0.5 60:3 61:2.2 62:1.8 71:-0.7",
 "1:-1.8 2:1.2 3:-2.4 4:-1 6:0.1 9:0.9 10:3 12:1.6 13:0.5 14:2.4 16:-2.2 17:-2.5 19:-2.2 22:-0.7 23:1.8 25:-0.3 27:-1.8 28:-1.4 29:1.2 31:-0.7 33:0.5 34:-0.4 37:2.1 39:-0.7 41:0.6 42:1.4 45:-1.8 46:-1.6 47:-2 50:-0.4 51:-1.8 52:0.5 55:2.7 56:2.2 59:1.9 61:0.1 63:0.6 65:0.9 67:1 71:0.7",
 "1:0.3 2:-2.4 3:-3.3 4:-2.6 5:0 6:-1 8:1.6 9:1.3 11:0.5 14:1.5 15:-1.8 16:-3.5 18:-2.5 20:-2.6 21:-0.3 22:-2.2 24:1.5 25:0.5 27:-1 31:-1.1 33:-0.4 35:-0.8 36:-0.5 40:1.2 41:-1.7 44:-2.2 45:1.8 47:0 49:0.8 52:1.4 54:0.2 56:1.2 59:1.4 61:1 65:0.9 71:0.6",
 "1:-0.5 2:-0.6 3:-1 5:0.2 9:1.6 11:0.3 13:0.8 14:1.4 15:-2.5 17:-3 19:-2.6 22:-2.4 24:1.6 25:1.2 27:-1.7 28:-3 33:-0.6 35:-1.7 36:1.5 38:1.8 39:1.2 40:2 42:-1.7 46:-1 48:0.2 50:1.2 51:2 52:-1.2 53:1 56:2.1 58:0.4 59:2.1 62:-1 63:-1.5 65:1.7 67:2.4 69:1.4 71:0.3",
 "1:2.2 2:-0.5 3:-1.2 4:2 5:0.5 7:2.4 9:2.2 11:-1 13:-2 14:3.6 15:-0.5 18:-1.2 19:1.8 22:0.4 25:0.5 26:0.2 27:1.6 30:2 31:0.3 33:-1.3 34:-1.5 36:0.1 38:-1.8 39:0.4 44:-0.5 45:0.5 46:-1.9 47:2.6 49:-0.6 52:1.8 54:-0.3 56:-1 59:-0.7 62:-0.9 65:-3 67:-3.1 68:0 70:-1.5 71:-1.5",
 "5:1.7 10:-1.2 11:1.9 12:-1 15:1 18:-1 20:1.7 21:-1 22:1.8 41:1.8 71:-1.1",
 "1:2.5 2:4.2 20:-0.5 21:2.2 22:0.1 24:1.9 26:4.3 27:2.8 32:-0.5 34:2.4 35:-0.5 36:1 37:2.2 71:-0.5",
 "1:-0.5 2:2 3:1.4 4:2.6 5:1.8 6:-2.4 8:-1.6 9:-0.4 10:0.5 12:-0.5 13:-1.6 14:2.2 16:1.4 19:-1.2 20:0.4 24:0.6 26:-1.8 28:-3.5 30:-1.5 33:0.6 35:-0.6 36:0.3 41:1.5 43:2.1 44:-0.4 45:1.7 48:1.4 51:1.6 58:-0.2 60:-1.8 62:-0.3 63:-2 65:-0.7 67:-0.9 68:-1.5 70:-1.5 71:-2.6",
 "1:5.6 2:3.5 3:1.2 4:3.2 6:0.6 10:-0.5 11:2.6 13:-0.1 15:0.3 16:1.2 18:-0.1 20:0.2 26:0 30:-0.4 35:-0.5 41:-0.6 42:0.3 46:-0.3 55:-0.7 57:1 59:0 60:1.3 62:-0.1 71:-0.6",
 "1:0.4 2:4 4:3.9 5:3.5 6:2.6 8:-1 14:0.3 17:0.3 18:2 19:0.3 20:1.8 22:0.5 24:-0.9 25:2 26:-0.5 31:0.2 33:-0.6 36:0.1 38:-1.2 41:-1.5 42:1 46:0.9 52:-0.8 56:-0.5 61:-1.1 64:-1.6 68:-0.8 71:-0.6",
 "1:0.7 5:3.6 6:2.2 9:-0.6 11:0.9 12:-0.6 13:0.6 14:-0.9 15:0.4 17:1.3 19:-0.8 24:0.7 25:1.4 26:-0.7 46:-0.6 51:0.8 59:-0.6 60:1.4 71:-0.6",
]
BAR_B_CLINICAL = [0,1,2,3,4,8,9,11,13,19,20,21,25,27,29,30,32,33,35,36,39,41,43,44,49,55,56,60,61,64,66,69,70,71]
BAR_B_RADIOMIC = [0,11,13,15,16,17,18,20,21,23,24,26,27,28,36,38,42,44,46,52,54,59,63,66,71]
BAR_B_CNN_CLIN = [0,1,2,3,5,9,12,15,17,19,20,25,26,29,30,32,39,40,43,45,46,52,53,58,59,60,64,65,66,67,69,71]
BAR_B_CNN_RAD = [0,10,13,17,19,24,25,33,34,35,38,40,41,43,51,52,54,58,60,62,66,67,69,70,71]
BAR_B_CLIN_RAD = [0,9,11,16,17,18,19,21,22,24,26,27,32,33,39,42,43,47,48,49,50,52,55,56,57,60,63,66,69,71]
BAR_B_ALL = [1,2,4,14,15,16,18,21,22,24,25,26,27,29,31,33,35,37,38,41,51,52,53,57,60,62,64,70,71]

TITLES = ["Clinical", "Radiomic", "CNN+Clinical", "CNN+Radiomic", "Clinical+Radiomic", "CNN+Radiomic+Clinical"]
A_TICKS = [-2, 0, 2, 4, 6, 8]
B_TICKS = [-4, -2, 0, 2, 4]
A_RANGE = (-3.27, 8.53)
B_RANGE = (-4.25, 5.6)
A_LEGEND = ["EGFR+", "EGFR-"]
B_LEGEND = ["EGFR19", "EGFR21"]

W, H = 1568.0, 1452.0
fig = plt.figure(figsize=(36.02, 33.35), dpi=100, facecolor="white")
cmap = sns.color_palette("rocket", as_cmap=True)
bar_cmap = ListedColormap(["#808080", "#000000"])
SERIF = "Liberation Serif"


def axes_at(x0, y0, x1, y1):
    ax = fig.add_axes([x0 / W, 1 - y1 / H, (x1 - x0) / W, (y1 - y0) / H])
    return ax


def expand(row, n):
    ends, vals = [], []
    for part in row.split():
        e, v = part.split(":")
        ends.append(int(e))
        vals.append(float(v))
    ends[-1] = n
    widths = np.diff([0] + ends)
    keep = widths > 0
    return np.repeat(np.array(vals)[keep], widths[keep])


def panel(rows, bar, n, vrange, box, crop=1.0):
    x0, y0, x1, y1 = box
    bar_h = 11
    data = np.vstack([expand(r, n) for r in rows])
    ax = axes_at(x0, y0 + bar_h, x1, y1)
    ax.imshow(data, aspect="auto", cmap=cmap, norm=Normalize(*vrange), interpolation="nearest")
    ax.set_ylim(len(rows) - 1.5 + crop, -0.5)
    ax.axis("off")
    bx = axes_at(x0, y0, x1, y0 + bar_h)
    labels = np.repeat(np.arange(len(bar)) % 2, np.diff([0] + list(bar)))
    bx.imshow(labels[None, :], aspect="auto", cmap=bar_cmap, vmin=0, vmax=1, interpolation="nearest")
    bx.axis("off")


XA = [(294, 575), (701, 982), (1107, 1388)]
XB = [(285, 578), (694, 987), (1103, 1396)]

panel(A_CLINICAL, BAR_A_CLINICAL, A_COLS, A_RANGE, (XA[0][0], 40, XA[0][1], 319))
panel(A_RADIOMIC, BAR_A_RADIOMIC, A_COLS, A_RANGE, (XA[1][0], 40, XA[1][1], 319))
panel(A_CNN_CLIN, BAR_A_CNN_CLIN, A_COLS, A_RANGE, (XA[2][0], 40, XA[2][1], 319))
panel(A_CNN_RAD, BAR_A_CNN_RAD, A_COLS, A_RANGE, (XA[0][0], 412, XA[0][1], 691))
panel(A_CLIN_RAD, BAR_A_CLIN_RAD, A_COLS, A_RANGE, (XA[1][0], 412, XA[1][1], 691))
panel(A_ALL, BAR_A_ALL, A_COLS, A_RANGE, (XA[2][0], 412, XA[2][1], 691))
panel(B_CLINICAL, BAR_B_CLINICAL, B_COLS, B_RANGE, (XB[0][0], 798, XB[0][1], 1078), crop=0.83)
panel(B_RADIOMIC, BAR_B_RADIOMIC, B_COLS, B_RANGE, (XB[1][0], 798, XB[1][1], 1088))
panel(B_CNN_CLIN, BAR_B_CNN_CLIN, B_COLS, B_RANGE, (XB[2][0], 798, XB[2][1], 1078), crop=0.76)
panel(B_CNN_RAD, BAR_B_CNN_RAD, B_COLS, B_RANGE, (XB[0][0], 1157, XB[0][1], 1447))
panel(B_CLIN_RAD, BAR_B_CLIN_RAD, B_COLS, B_RANGE, (XB[1][0], 1157, XB[1][1], 1447))
panel(B_ALL, BAR_B_ALL, B_COLS, B_RANGE, (XB[2][0], 1157, XB[2][1], 1447))

title_pos = [(434, 15), (835, 15), (1223, 15), (427, 363), (828, 363), (1231, 363),
             (424, 763), (842, 763), (1245, 763), (418, 1126), (835, 1126), (1253, 1126)]
for (tx, ty), label in zip(title_pos, TITLES + TITLES):
    fig.text(tx / W, 1 - ty / H, label, family=SERIF, fontsize=49, ha="center", va="center", color="#111111")

fig.text(23 / W, 1 - 75 / H, "A", family=SERIF, fontsize=97, ha="center", va="center", color="black")
fig.text(21 / W, 1 - 788 / H, "B", family=SERIF, fontsize=97, ha="center", va="center", color="black")
fig.text(1101 / W, 1 - 1228 / H, "cs", fontsize=7, ha="center", va="center", color="#333333")

line = fig.add_axes([0, 0, 1, 1], facecolor="none")
line.set_xlim(0, W)
line.set_ylim(H, 0)
line.axis("off")
line.plot([145, 1563], [724, 724], color="black", lw=7.5, linestyle=(0, (0.85, 0.85)))


def colorbar(box, vrange, ticks, fs, tick_len):
    x0, y0, x1, y1 = box
    cax = axes_at(x0, y0, x1, y1)
    cb = fig.colorbar(ScalarMappable(norm=Normalize(*vrange), cmap=cmap), cax=cax, ticks=ticks)
    cb.outline.set_visible(False)
    cb.ax.tick_params(labelsize=fs, length=tick_len, width=1.8, color="#333333", labelcolor="#333333", pad=7)


colorbar((174, 207, 201, 561), A_RANGE, A_TICKS, 19, 8)
colorbar((170, 956, 191, 1350), B_RANGE, B_TICKS, 17, 7)


def legend(labels, x, y, fs, hl, hh, pad, spacing):
    handles = [Patch(color="black"), Patch(color="#808080")]
    fig.legend(handles, labels, loc="upper left", bbox_to_anchor=(x / W, 1 - y / H),
               fontsize=fs, frameon=True, borderaxespad=0, handlelength=hl, handleheight=hh,
               handletextpad=pad, labelspacing=spacing, borderpad=0.5, labelcolor="#333333",
               edgecolor="#d5d5d5", framealpha=1, fancybox=True)


legend(A_LEGEND, 154, 88, 20, 2.05, 0.5, 0.72, 0.35)
legend(B_LEGEND, 140, 852, 25.5, 2.0, 0.45, 0.78, 0.35)

fig.savefig("out.png", dpi=100, facecolor="white")
